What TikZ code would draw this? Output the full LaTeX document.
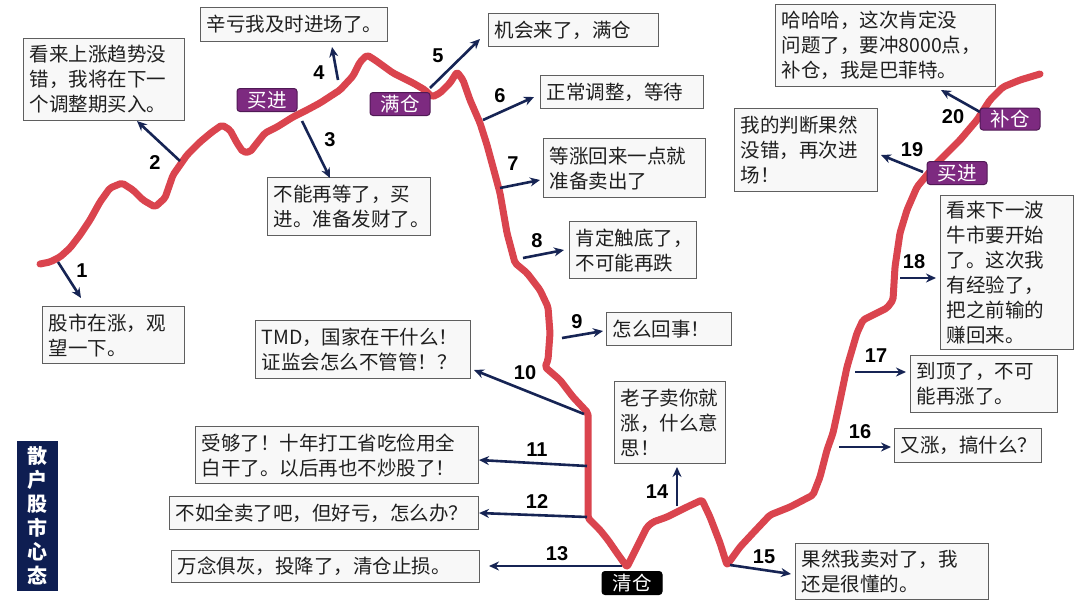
\documentclass[tikz,border=0pt]{standalone}
\usepackage{fontspec}
\newfontfamily\cjk{Noto Sans CJK SC}
\newfontfamily\numfont{Liberation Sans}
\usetikzlibrary{arrows.meta}
\definecolor{curvered}{RGB}{218,68,78}
\definecolor{arrownavy}{RGB}{22,36,84}
\definecolor{tagpurple}{RGB}{125,42,128}
\definecolor{tagborder}{RGB}{80,25,85}
\definecolor{boxfill}{RGB}{248,248,248}
\definecolor{boxline}{RGB}{95,95,95}
\definecolor{titlenavy}{RGB}{14,30,82}
\begin{document}
\begin{tikzpicture}[x=1pt,y=-1pt,
  tbox/.style n args={3}{draw=boxline, line width=1.1pt, fill=boxfill, anchor=north west,
     align=left, inner xsep=6pt, inner ysep=2pt, text=black!88,
     font=\cjk\fontsize{19.5}{25}\selectfont,
     minimum width=#1pt, minimum height=#2pt, text width=#3pt},
  tag/.style={draw=tagborder, line width=1pt, fill=tagpurple, rounded corners=3pt, text=white,
     font=\cjk\fontsize{19.5}{20}\selectfont, minimum width=60pt, minimum height=23pt, inner sep=0pt},
  blacktag/.style={tag, fill=black, draw=black},
  num/.style={font=\numfont\bfseries\fontsize{20}{20}\selectfont, text=black, inner sep=0pt},
  arr/.style={draw=arrownavy, line width=2.6pt, -{Stealth[length=10pt,width=9pt]}},
  curve/.style={draw=curvered, line width=7pt, line join=round, line cap=round, rounded corners=2pt}
]
\useasboundingbox (0,0) rectangle (1080,608);
\fill[white] (0,0) rectangle (1080,608);

% price curve
\draw[curve] (40,264) -- (50,262) -- (60,257) -- (70,248) -- (80,235) -- (90,220) -- (100,202)
 -- (110,188) -- (122,183) -- (133,190) -- (143,200) -- (155,207) -- (165,198) -- (173,175)
 -- (187,155) -- (200,142) -- (212,132) -- (222,125) -- (230,130) -- (237,143) -- (243,152)
 -- (250,152) -- (257,143) -- (265,133) -- (277,127) -- (293,117) -- (307,110) -- (320,103)
 -- (340,90) -- (353,76) -- (360,62) -- (367,55) -- (375,60) -- (393,73) -- (413,83)
 -- (425,90) -- (432,97) -- (440,93) -- (450,83) -- (457,72) -- (463,80) -- (470,100)
 -- (480,123) -- (487,145) -- (493,167) -- (500,193) -- (507,233) -- (515,263) -- (527,273)
 -- (540,290) -- (548,307) -- (550,333) -- (548,360) -- (545,367) -- (560,380) -- (573,397)
 -- (588,413) -- (588,467) -- (588,518) -- (600,530) -- (608,540) -- (617,553) -- (627,567)
 -- (637,547) -- (647,527) -- (653,522) -- (667,517) -- (687,507) -- (702,500) -- (710,517)
 -- (720,543) -- (727,565) -- (740,547) -- (753,533) -- (770,515) -- (790,507) -- (813,495)
 -- (820,477) -- (827,450) -- (833,433) -- (838,410) -- (847,367) -- (857,333) -- (863,320)
 -- (887,308) -- (893,300) -- (895,267) -- (900,233) -- (907,210) -- (917,187) -- (937,163)
 -- (960,140) -- (977,120) -- (990,100) -- (1003,87) -- (1020,80) -- (1040,74);

% text boxes
\node[tbox={142}{57}{130}] (b1) at (42,306) {股市在涨，观\\望一下。};
\node[tbox={161}{82}{149}] (b2) at (23,38) {看来上涨趋势没\\错，我将在下一\\个调整期买入。};
\node[tbox={163}{58}{151}] (b3) at (267,177) {不能再等了，买\\进。准备发财了。};
\node[tbox={187}{34}{175}] (b4) at (200,7) {辛亏我及时进场了。};
\node[tbox={170}{33}{158}] (b5) at (488,13) {机会来了，满仓};
\node[tbox={163}{33}{151}] (b6) at (540,75) {正常调整，等待};
\node[tbox={162}{59}{150}] (b7) at (543,138) {等涨回来一点就\\准备卖出了};
\node[tbox={127}{57}{115}] (b8) at (569,221) {肯定触底了，\\不可能再跌};
\node[tbox={125}{33}{113}] (b9) at (606,312) {怎么回事！};
\node[tbox={215}{58}{203}] (b10) at (255,320) {TMD，国家在干什么！\\证监会怎么不管管！？};
\node[tbox={283}{57}{271}] (b11) at (195,426) {受够了！十年打工省吃俭用全\\白干了。以后再也不炒股了！};
\node[tbox={309}{33}{297}] (b12) at (169,496) {不如全卖了吧，但好亏，怎么办？};
\node[tbox={308}{32}{296}] (b13) at (171,550) {万念俱灰，投降了，清仓止损。};
\node[tbox={111}{82}{99}] (b14) at (614,381) {老子卖你就\\涨，什么意\\思！};
\node[tbox={193}{56}{181}] (b15) at (795,543) {果然我卖对了，我\\还是很懂的。};
\node[tbox={147}{34}{135}] (b16) at (894,428) {又涨，搞什么？};
\node[tbox={147}{57}{135}] (b17) at (910,355) {到顶了，不可\\能再涨了。};
\node[tbox={133}{154}{121}] (b18) at (940,195) {看来下一波\\牛市要开始\\了。这次我\\有经验了，\\把之前输的\\赚回来。};
\node[tbox={143}{83}{131}] (b19) at (734,108) {我的判断果然\\没错，再次进\\场！};
\node[tbox={220}{82}{208}] (b20) at (775,4) {哈哈哈，这次肯定没\\问题了，要冲8000点，\\补仓，我是巴菲特。};

% arrows
\coordinate (a1s) at (58,262);   \coordinate (a1e) at (81,298);
\coordinate (a2s) at (180,161);  \coordinate (a2e) at (137,121);
\coordinate (a3s) at (302,121);  \coordinate (a3e) at (330,178);
\coordinate (a4s) at (338,80);   \coordinate (a4e) at (332,47);
\coordinate (a5s) at (430,88);   \coordinate (a5e) at (480,39);
\coordinate (a6s) at (483,120);  \coordinate (a6e) at (534,97);
\coordinate (a7s) at (500,188);  \coordinate (a7e) at (540,180);
\coordinate (a8s) at (523,258);  \coordinate (a8e) at (564,250);
\coordinate (a9s) at (562,338);  \coordinate (a9e) at (603,331);
\coordinate (a10s) at (584,414); \coordinate (a10e) at (474,370);
\coordinate (a11s) at (587,466); \coordinate (a11e) at (479,460);
\coordinate (a12s) at (587,517); \coordinate (a12e) at (479,513);
\coordinate (a13s) at (622,566); \coordinate (a13e) at (489,566);
\coordinate (a14s) at (677,506); \coordinate (a14e) at (677,467);
\coordinate (a15s) at (730,565); \coordinate (a15e) at (791,574);
\coordinate (a16s) at (839,447); \coordinate (a16e) at (891,447);
\coordinate (a17s) at (855,372); \coordinate (a17e) at (906,372);
\coordinate (a18s) at (900,278); \coordinate (a18e) at (936,278);
\coordinate (a19s) at (923,172); \coordinate (a19e) at (881,155);
\coordinate (a20s) at (980,112); \coordinate (a20e) at (941,90);
\foreach \i in {1,...,20} { \draw[arr] (a\i s) -- (a\i e); }

% step numbers
\node[num] (n1) at (82,271) {1};
\node[num] (n2) at (155,163) {2};
\node[num] (n3) at (330,140) {3};
\node[num] (n4) at (319,73) {4};
\node[num] (n5) at (438,56) {5};
\node[num] (n6) at (500,96) {6};
\node[num] (n7) at (513,164) {7};
\node[num] (n8) at (537,241) {8};
\node[num] (n9) at (577,322) {9};
\node[num] (n10) at (525,373) {10};
\node[num] (n11) at (537,450) {11};
\node[num] (n12) at (537,502) {12};
\node[num] (n13) at (557,554) {13};
\node[num] (n14) at (657,492) {14};
\node[num] (n15) at (764,557) {15};
\node[num] (n16) at (860,432) {16};
\node[num] (n17) at (876,356) {17};
\node[num] (n18) at (914,262) {18};
\node[num] (n19) at (912,150) {19};
\node[num] (n20) at (953,117) {20};

% tags
\node[tag] (t1) at (267,100) {买进};
\node[tag] (t2) at (400,104) {满仓};
\node[tag, minimum height=22pt] (t3) at (1010,119) {补仓};
\node[tag] (t4) at (957,173) {买进};
\node[blacktag] (t5) at (632,583) {清仓};

% title
\node[fill=titlenavy, text=white, minimum width=41pt, minimum height=150pt, inner sep=0pt,
      align=center, font=\cjk\bfseries\fontsize{20}{24}\selectfont] (title) at (37.5,516)
      {散\\户\\股\\市\\心\\态};
\end{tikzpicture}
\end{document}
